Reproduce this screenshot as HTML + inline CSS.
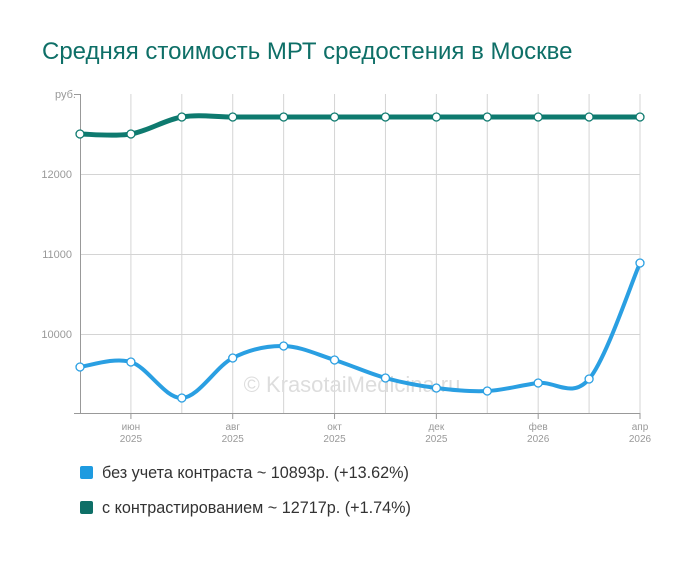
<!DOCTYPE html>
<html><head><meta charset="utf-8"><style>
body{margin:0;background:#fff;width:700px;height:557px;overflow:hidden;font-family:"Liberation Sans",sans-serif}
</style></head><body>
<svg id="s" width="700" height="557" xmlns="http://www.w3.org/2000/svg" font-family="Liberation Sans, sans-serif">
<text x="42" y="59" font-size="24" fill="#0e6f67">Средняя стоимость МРТ средостения в Москве</text>
<g id="grid" stroke="#d4d4d4" stroke-width="1"></g>
<line x1="80.5" y1="94" x2="80.5" y2="414" stroke="#999"/>
<line x1="74" y1="413.5" x2="640" y2="413.5" stroke="#999"/>
<g font-size="11" fill="#999" text-anchor="end">
<text x="76" y="98">руб.</text>
<text x="72" y="178">12000</text>
<text x="72" y="258">11000</text>
<text x="72" y="338">10000</text>
</g>
<g id="xl" font-size="10" fill="#999" text-anchor="middle"></g>
<text x="352" y="392" font-size="22" fill="#ddd" text-anchor="middle">© KrasotaiMedicina.ru</text>
<g id="series"></g>
<rect x="80" y="466" width="13" height="13" rx="2" fill="#1e9be0"/>
<text x="102" y="478" font-size="16.2" fill="#333">без учета контраста ~ 10893р. (+13.62%)</text>
<rect x="80" y="501" width="13" height="13" rx="2" fill="#0e6f67"/>
<text x="102" y="513" font-size="16.2" fill="#333">с контрастированием ~ 12717р. (+1.74%)</text>
</svg>
<script>
var ns="http://www.w3.org/2000/svg",g=document.getElementById('grid'),xl=document.getElementById('xl'),se=document.getElementById('series');
function el(p,t,a){var e=document.createElementNS(ns,t);for(var k in a)e.setAttribute(k,a[k]);p.appendChild(e);return e;}
var X=[];for(var i=0;i<12;i++)X.push(80+i*560/11);
for(var i=1;i<12;i++)el(g,'line',{x1:X[i],y1:94,x2:X[i],y2:413});
[174,254,334].forEach(function(y){el(g,'line',{x1:80,y1:y+.5,x2:640,y2:y+.5})});
el(g,'line',{x1:74,y1:94.5,x2:80,y2:94.5,stroke:'#999'});
var labs=['июн','авг','окт','дек','фев','апр'];
for(var j=0;j<6;j++){var x=X[1+2*j];el(g,'line',{x1:x,y1:413,x2:x,y2:419,stroke:'#999'});
var t=el(xl,'text',{x:x,y:430});t.textContent=labs[j];var t2=el(xl,'text',{x:x,y:442});t2.textContent=j>=4?'2026':'2025';}
function path(Y){var d='M'+X[0]+','+Y[0];for(var i=0;i<Y.length-1;i++){var p0=[X[Math.max(i-1,0)],Y[Math.max(i-1,0)]],p1=[X[i],Y[i]],p2=[X[i+1],Y[i+1]],p3=[X[Math.min(i+2,11)],Y[Math.min(i+2,11)]];
d+=' C'+(p1[0]+(p2[0]-p0[0])/6)+','+(p1[1]+(p2[1]-p0[1])/6)+' '+(p2[0]-(p3[0]-p1[0])/6)+','+(p2[1]-(p3[1]-p1[1])/6)+' '+p2[0]+','+p2[1];}return d;}
function ser(Y,c,w){el(se,'path',{d:path(Y),fill:'none',stroke:c,'stroke-width':w});Y.forEach(function(y,i){el(se,'circle',{cx:X[i],cy:y,r:4,fill:'#fff',stroke:c,'stroke-width':1.3})});}
ser([134,134,117,117,117,117,117,117,117,117,117,117],'#0e7a6f',5);
ser([367,362,398,358,346,360,378,388,391,383,379,263],'#2a9fe2',4);
</script>
</body></html>
